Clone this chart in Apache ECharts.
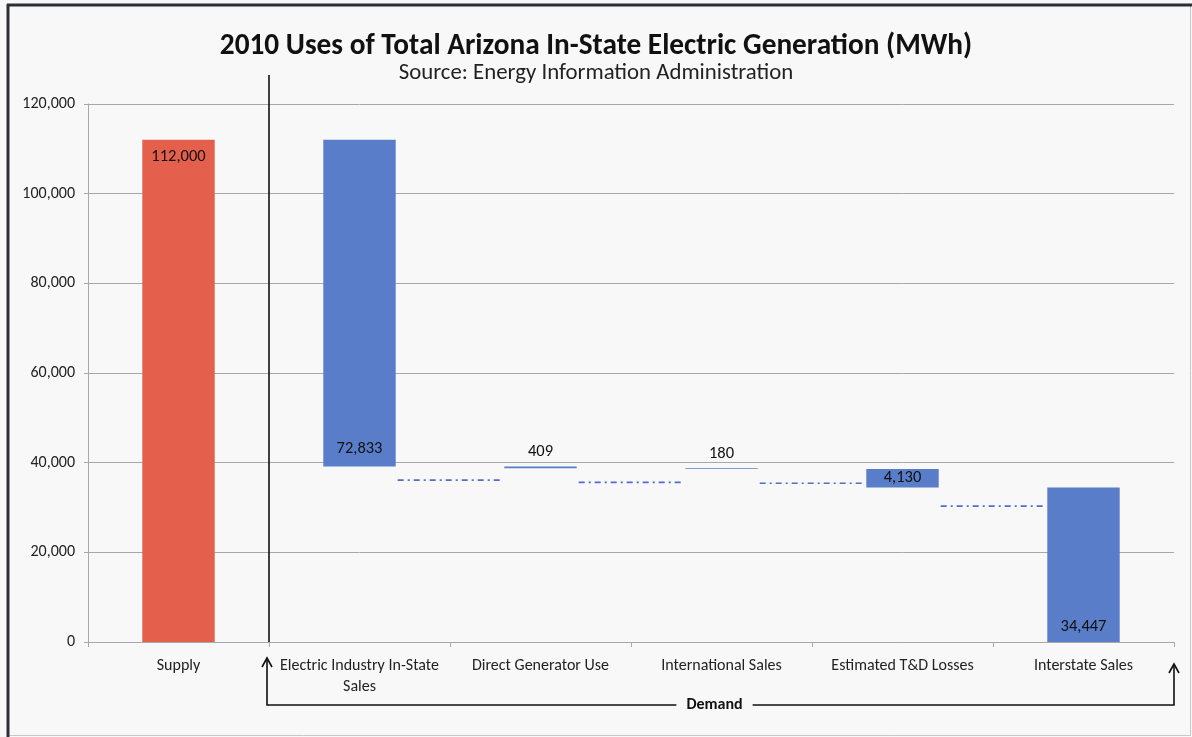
<!DOCTYPE html>
<html>
<head>
<meta charset="utf-8">
<script src="https://cdn.jsdelivr.net/npm/echarts@6/dist/echarts.min.js"></script>
<style>
  html, body { margin: 0; padding: 0; background: #f7f8f7; }
  #chart { width: 1192px; height: 737px; }
</style>
</head>
<body>
<div id="chart"></div>
<script>
// Categories along the x axis
const categories = [
  'Supply',
  'Electric Industry In-State\nSales',
  'Direct Generator Use',
  'International Sales',
  'Estimated T&D Losses',
  'Interstate Sales'
];
// Generation (MWh) and each of its uses
const amounts = [112000, 72833, 409, 180, 4130, 34447];
// Levels of the dash-dot connectors between consecutive demand bars
const connectorLevels = [36100, 35600, 35400, 30300];
// Value axis range
const yMin = 0, yMax = 120000, yStep = 20000;

const FONT = 'Carlito, "Liberation Sans Narrow", "Open Sans", sans-serif';
const RED = '#e4604c';
const BLUE = '#5a7dca';

// Waterfall: supply stands from zero, each use hangs below what remains
const bases = [];
let remaining = 0;
amounts.forEach((v, i) => {
  if (i === 0) { bases.push(0); remaining = v; }
  else { remaining -= v; bases.push(Math.max(remaining, 0)); }
});

const labelPos = ['insideTop', 'insideBottom', 'top', 'top', 'inside', 'insideBottom'];
const labelDist = [9, 9, 6, 6, 5, 7];

const fmt = v => Number(v).toLocaleString('en-US');

const chart = echarts.init(document.getElementById('chart'), null, { renderer: 'canvas' });

const option = {
  backgroundColor: '#f7f8f7',
  animation: false,
  title: {
    text: '2010 Uses of Total Arizona In-State Electric Generation (MWh)',
    subtext: 'Source: Energy Information Administration',
    left: 'center',
    top: 27,
    itemGap: 1,
    textStyle: { fontFamily: FONT, fontSize: 29.3, fontWeight: 'bold', color: '#111' },
    subtextStyle: { fontFamily: FONT, fontSize: 22.8, color: '#222' }
  },
  grid: { left: 88, right: 18, top: 104, bottom: 95, containLabel: false },
  xAxis: {
    type: 'category',
    data: categories,
    axisLine: { show: true, lineStyle: { color: '#a8a8a8', width: 1 } },
    axisTick: { show: true, length: 5, lineStyle: { color: '#a8a8a8' } },
    axisLabel: { fontFamily: FONT, fontSize: 16, color: '#222', margin: 13, lineHeight: 21, interval: 0 },
    splitLine: { show: false }
  },
  yAxis: {
    type: 'value',
    min: yMin, max: yMax, interval: yStep,
    axisLine: { show: true, lineStyle: { color: '#a8a8a8', width: 1 } },
    axisTick: { show: true, length: 4, lineStyle: { color: '#a8a8a8' } },
    axisLabel: { fontFamily: FONT, fontSize: 16, color: '#222', margin: 13, formatter: fmt },
    splitLine: { show: true, lineStyle: { color: '#a8a8a8', width: 1 } }
  },
  series: [
    {
      name: 'base',
      type: 'bar',
      stack: 'w',
      barWidth: '40%',
      silent: true,
      itemStyle: { color: 'rgba(0,0,0,0)' },
      data: bases
    },
    {
      name: 'amount',
      type: 'bar',
      stack: 'w',
      barWidth: '40%',
      data: amounts.map((v, i) => ({
        value: v,
        itemStyle: { color: i === 0 ? RED : BLUE },
        label: {
          show: true,
          position: labelPos[i],
          distance: labelDist[i],
          formatter: () => fmt(v),
          fontFamily: FONT,
          fontSize: 16.5,
          color: '#111'
        }
      }))
    },
    {
      name: 'connectors',
      type: 'custom',
      silent: true,
      z: 3,
      encode: { x: 0, y: 1 },
      data: connectorLevels.map((lvl, k) => [k + 1, lvl]),
      renderItem: (params, api) => {
        const i = api.value(0);
        const lvl = api.value(1);
        const half = api.size([1, 0])[0] * 0.2;
        const p0 = api.coord([i, lvl]);
        const p1 = api.coord([i + 1, lvl]);
        return {
          type: 'line',
          shape: { x1: p0[0] + half + 2, y1: p0[1], x2: p1[0] - half - 2, y2: p1[1] },
          style: { stroke: '#4d6fc8', lineWidth: 1.6, lineDash: [6, 4, 2, 4] }
        };
      }
    }
  ]
};

chart.setOption(option);

// Separator and "Demand" bracket, placed from the axis scales
const c0 = chart.convertToPixel({ gridIndex: 0 }, [0, 0]);
const c1 = chart.convertToPixel({ gridIndex: 0 }, [1, 0]);
const cLast = chart.convertToPixel({ gridIndex: 0 }, [categories.length - 1, 0]);
const band = c1[0] - c0[0];
const xSep = c0[0] + band / 2;
const xEnd = cLast[0] + band / 2;
const yZero = c0[1];
const yTop = chart.convertToPixel({ gridIndex: 0 }, [0, yMax])[1];
const yBracket = yZero + 63;
const xLeftArrow = xSep - 2;
const arrowHead = (x, tip) => ({
  type: 'polyline',
  shape: { points: [[x - 5, tip + 9], [x, tip], [x + 5, tip + 9]] },
  style: { stroke: '#111', lineWidth: 1.6, fill: null }
});

chart.setOption({
  graphic: [
    // frame
    { type: 'rect', shape: { x: 7.5, y: 5.5, width: 1183, height: 730 }, style: { fill: null, stroke: '#c8c8c8', lineWidth: 1 }, silent: true },
    { type: 'line', shape: { x1: 7, y1: 5, x2: 1192, y2: 5 }, style: { stroke: '#2e2e36', lineWidth: 3 }, silent: true },
    { type: 'line', shape: { x1: 8, y1: 4, x2: 8, y2: 737 }, style: { stroke: '#2e2e36', lineWidth: 3 }, silent: true },
    // supply / demand separator
    { type: 'line', shape: { x1: xSep, y1: yTop - 29, x2: xSep, y2: yZero }, style: { stroke: '#111', lineWidth: 1.6 }, silent: true },
    // demand bracket
    {
      type: 'polyline',
      shape: { points: [[xLeftArrow, yZero + 16], [xLeftArrow, yBracket], [xEnd, yBracket], [xEnd, yZero + 22]] },
      style: { stroke: '#111', lineWidth: 1.6, fill: null },
      silent: true
    },
    arrowHead(xLeftArrow, yZero + 16),
    arrowHead(xEnd, yZero + 22),
    {
      type: 'text',
      x: (xLeftArrow + xEnd) / 2 - 6,
      y: yBracket,
      style: {
        text: 'Demand',
        fontFamily: FONT, fontSize: 16, fontWeight: 'bold', fill: '#111',
        align: 'center', verticalAlign: 'middle',
        backgroundColor: '#f7f8f7', padding: [2, 10]
      },
      z: 10,
      silent: true
    }
  ]
});
</script>
</body>
</html>
